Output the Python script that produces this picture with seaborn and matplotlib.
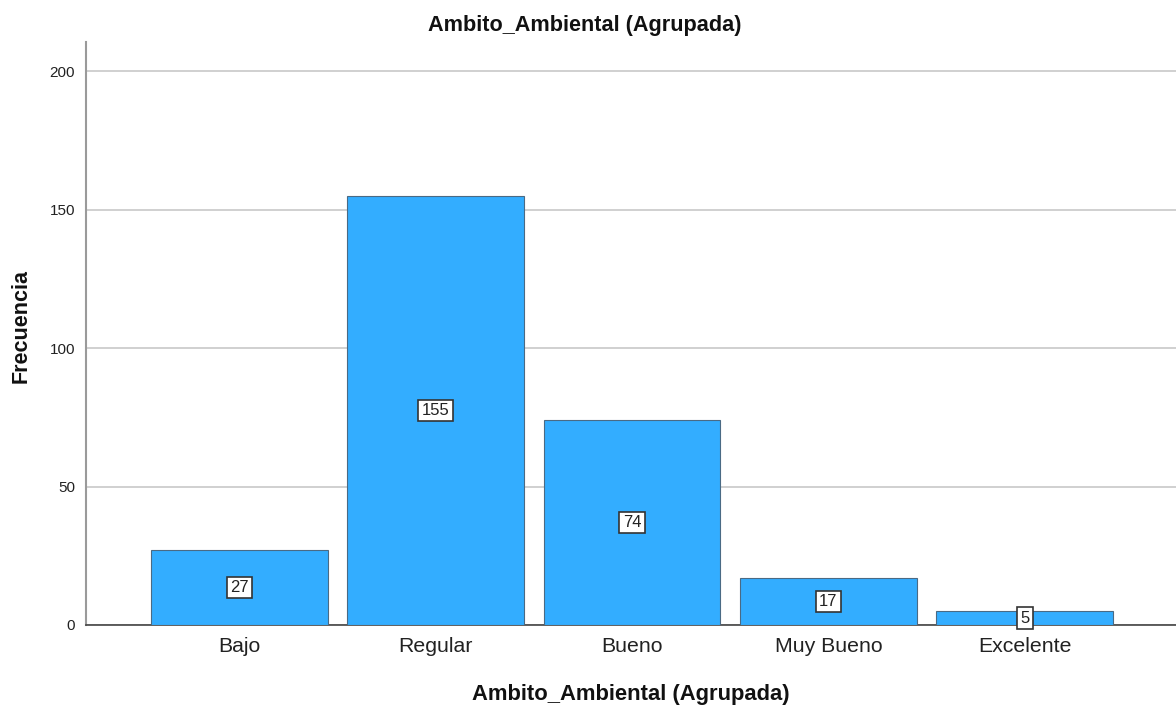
import matplotlib
matplotlib.use("Agg")
import matplotlib.pyplot as plt
import seaborn as sns
import pandas as pd

categorias = ["Bajo", "Regular", "Bueno", "Muy Bueno", "Excelente"]
frecuencias = [27, 155, 74, 17, 5]
ticks_y = [0, 50, 100, 150, 200]

sns.set_theme(style="white")
plt.rcParams["font.family"] = ["Liberation Sans", "DejaVu Sans"]

df = pd.DataFrame({"categoria": categorias, "frecuencia": frecuencias})

fig = plt.figure(figsize=(11.76, 7.07), dpi=100)
ax = fig.add_axes([86 / 1176, 82 / 707, 1 - 86 / 1176, 583 / 707])

sns.barplot(data=df, x="categoria", y="frecuencia", order=categorias,
            color="#33adff", saturation=1, width=0.9,
            edgecolor="#4a6a84", linewidth=0.8, ax=ax, zorder=3)

ax.set_ylim(0, 210.5)
ax.set_xlim(-0.78, 4.77)
ax.set_yticks(ticks_y)
ax.yaxis.grid(True, color="#c8c8c8", linewidth=1.2, zorder=0)
ax.set_axisbelow(True)
ax.tick_params(axis="both", length=0)
ax.tick_params(axis="x", labelsize=15.3, pad=9, colors="#222222")
ax.tick_params(axis="y", labelsize=11, pad=8, colors="#222222")

for s in ["top", "right"]:
    ax.spines[s].set_visible(False)
ax.spines["left"].set_color("#9a9a9a")
ax.spines["left"].set_linewidth(1.5)
ax.spines["bottom"].set_color("#444444")
ax.spines["bottom"].set_linewidth(1.2)

for i, v in enumerate(frecuencias):
    ax.text(i, v / 2, str(v), ha="center", va="center", fontsize=12,
            color="#222222", zorder=5,
            bbox=dict(boxstyle="square,pad=0.2", facecolor="white",
                      edgecolor="#333333", linewidth=1.2))

ax.set_xlabel("Ambito_Ambiental (Agrupada)", fontsize=15.8, fontweight="bold",
              color="#111111")
ax.xaxis.set_label_coords(0.5, -59 / 583)
ax.set_ylabel("Frecuencia", fontsize=15.5, fontweight="bold", color="#111111")
ax.yaxis.set_label_coords(-54 / 1090, 299 / 583)
fig.text(585 / 1176, 1 - 26 / 707, "Ambito_Ambiental (Agrupada)",
         ha="center", va="center", fontsize=15.6, fontweight="bold",
         color="#111111")

fig.savefig("out.png", dpi=100)
